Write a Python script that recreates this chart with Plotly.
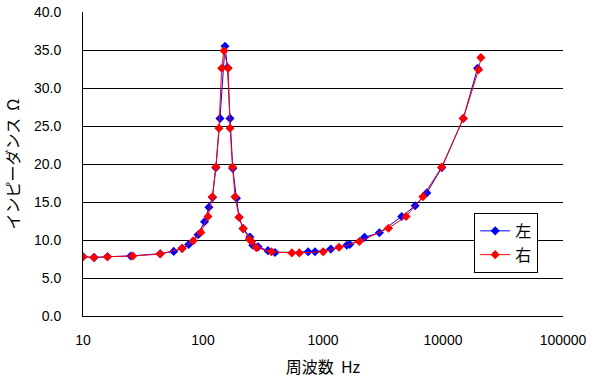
import plotly.graph_objects as go

# Left channel (左)
left_freq = [10, 12.4, 16, 25, 44, 57, 67, 76, 91, 103, 112, 120, 128, 138.5, 152.5, 160, 168, 177, 190,
             200, 216, 246, 260, 288, 348, 398, 752, 858, 1162, 1579, 1670, 2220, 2950, 4530, 5860, 7330,
             9760, 14760, 19400]
left_imp = [7.8, 7.7, 7.8, 7.9, 8.2, 8.5, 8.9, 9.4, 10.7, 12.4, 14.3, 15.6, 19.5, 26.0, 35.5, 32.7, 26.0, 19.4, 15.5,
            13.0, 11.5, 10.4, 9.3, 9.1, 8.6, 8.35, 8.45, 8.45, 8.8, 9.3, 9.4, 10.35, 10.95, 13.1, 14.5, 16.2,
            19.5, 26.0, 32.6]

# Right channel (右)
right_freq = [10, 12.3, 16, 26, 44, 67, 83, 96, 110, 119.6, 128, 135.9, 143, 149.4, 162, 168, 176.5, 185, 200,
              216, 243, 254, 278, 372, 550, 635, 1003, 1360, 2010, 3510, 4930, 6790, 9760, 14760, 19790, 20700]
right_imp = [7.8, 7.7, 7.8, 7.9, 8.15, 8.9, 9.9, 11.0, 13.1, 15.7, 19.6, 24.7, 32.6, 34.9, 32.6, 24.7, 19.6, 15.7, 13.0,
             11.5, 10.1, 9.8, 9.0, 8.45, 8.3, 8.3, 8.45, 9.05, 9.8, 11.55, 13.1, 15.7, 19.6, 26.0, 32.4, 34.0]

x_ticks = [10, 100, 1000, 10000, 100000]
x_ticktext = ["10", "100", "1000", "10000", "100000"]
y_ticks = [0, 5, 10, 15, 20, 25, 30, 35, 40]

num_font = "Liberation Sans, Arial, sans-serif"
jp_font = "Noto Sans CJK JP, sans-serif"

fig = go.Figure()
fig.add_trace(go.Scatter(x=left_freq, y=left_imp, name="左", mode="lines+markers",
                         line=dict(color="#0000FF", width=1),
                         marker=dict(symbol="diamond", size=7, color="#0000FF")))
fig.add_trace(go.Scatter(x=right_freq, y=right_imp, name="右", mode="lines+markers",
                         line=dict(color="#FF0000", width=1),
                         marker=dict(symbol="diamond", size=7, color="#FF0000")))

fig.update_layout(
    width=600, height=381,
    margin=dict(l=83, r=37, t=12, b=65),
    paper_bgcolor="white", plot_bgcolor="white",
    font=dict(family=num_font, size=14, color="black"),
    showlegend=True,
    legend=dict(x=0.815, y=0.339, xanchor="left", yanchor="top",
                bgcolor="white", bordercolor="black", borderwidth=1,
                font=dict(family=jp_font, size=16), itemwidth=30,
                tracegroupgap=0),
    xaxis=dict(type="log", range=[1, 5], tickvals=x_ticks, ticktext=x_ticktext,
               automargin=False,
               showgrid=False, zeroline=False, showline=True, linecolor="black", linewidth=1,
               ticks="", ticklabelstandoff=11, tickfont=dict(family=num_font, size=14),
               title=dict(text="周波数  Hz", font=dict(family=jp_font, size=16))),
    yaxis=dict(range=[0, 40], tickvals=y_ticks, tickformat=".1f",
               automargin=False,
               showgrid=True, gridcolor="black", gridwidth=1, zeroline=False,
               showline=True, linecolor="black", linewidth=1, ticks="",
               ticklabelstandoff=18, tickfont=dict(family=num_font, size=14),
               title=dict(text="インピーダンス  Ω", font=dict(family=jp_font, size=16))),
)

fig.write_html("out.html", config={"displayModeBar": False},
               post_script="document.body.style.margin='0';document.body.style.padding='0';")
